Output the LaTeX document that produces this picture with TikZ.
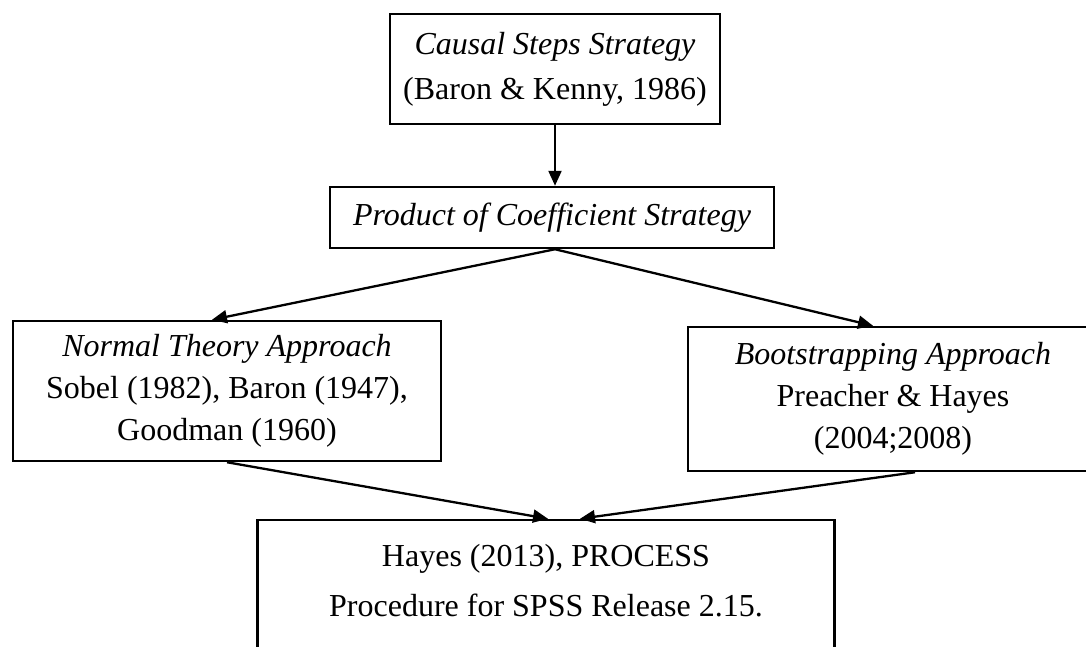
\documentclass[tikz,border=0pt]{standalone}
\usepackage{fontspec}
\setmainfont{Liberation Serif}
\usetikzlibrary{arrows.meta}
\begin{document}
\begin{tikzpicture}[x=1pt,y=-1pt,
  box/.style={draw, line width=2.5pt, inner sep=0pt, align=center, font=\fontsize{32}{42}\selectfont},
  conn/.style={line width=2.3pt, -{Triangle[length=15pt,width=13pt]}}]
\useasboundingbox (0,0) rectangle (1086,646);
\clip (0,0) rectangle (1086,646);
\node[box, minimum width=330, minimum height=110] (cs) at (555,69) {\textit{Causal Steps Strategy}\\[3pt](Baron \& Kenny, 1986)};
\node[box, minimum width=444, minimum height=61] (pc) at (552,217.5) {\textit{Product of Coefficient Strategy}};
\node[box, minimum width=428, minimum height=140] (nt) at (227,391) {\textit{Normal Theory Approach}\\Sobel (1982), Baron (1947),\\Goodman (1960)};
\node[box, minimum width=410, minimum height=144] (bs) at (893,399) {\textit{Bootstrapping Approach}\\Preacher \& Hayes\\(2004;2008)};
\node[box, minimum width=577, minimum height=170] (hp) at (546,605) {Hayes (2013), PROCESS\\[8pt]Procedure for SPSS Release 2.15.\\[8pt]~};
\draw[conn] (cs.south) -- (cs.south |- pc.north);
\draw[conn] (cs.south |- pc.south) -- ([xshift=-15pt]nt.north);
\draw[conn] (cs.south |- pc.south) -- ([xshift=-20pt]bs.north);
\draw[conn] (nt.south) -- ([xshift=2pt]hp.north);
\draw[conn] ([xshift=22pt]bs.south) -- ([xshift=34pt]hp.north);
\end{tikzpicture}
\end{document}
